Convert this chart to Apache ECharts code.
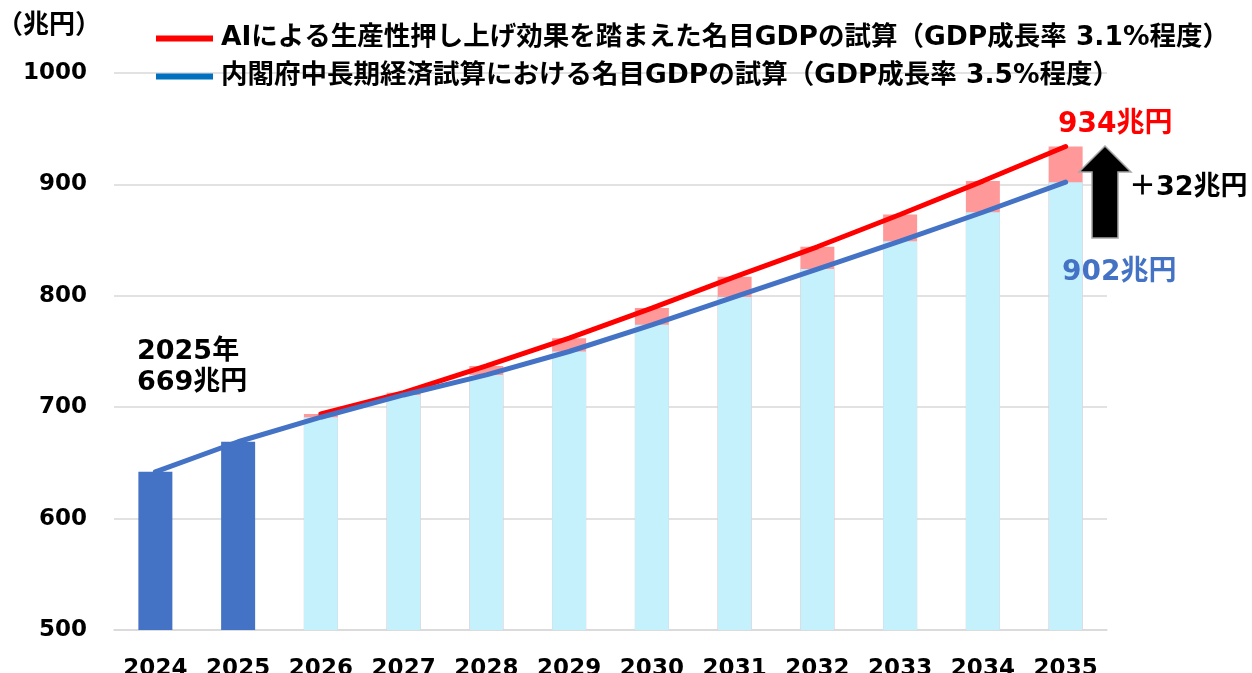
<!DOCTYPE html>
<html>
<head>
<meta charset="UTF-8">
<title>名目GDPの試算</title>
<script src="https://cdn.jsdelivr.net/npm/echarts@6/dist/echarts.min.js"></script>
<style>
html, body { margin: 0; padding: 0; background: #fff; }
#main { width: 1252px; height: 673px; }
</style>
</head>
<body>
<div id="main"></div>
<script>
// 年
var years = ['2024', '2025', '2026', '2027', '2028', '2029', '2030', '2031', '2032', '2033', '2034', '2035'];
// 内閣府中長期経済試算（兆円）
var baseGdp = [642, 669, 691, 711, 729, 750, 774, 799, 824, 849, 875, 902];
// AIによる押し上げを踏まえた試算（兆円）
var aiGdp = [null, null, 694, 713, 737, 762, 789, 817, 844, 873, 903, 934];
// 実績年の数（濃い青の棒）
var actualCount = 2;
// y軸
var yMin = 500, yMax = 1000, yStep = 100;

var nameAi = 'AIによる生産性押し上げ効果を踏まえた名目GDPの試算（GDP成長率 3.1%程度）';
var nameBase = '内閣府中長期経済試算における名目GDPの試算（GDP成長率 3.5%程度）';

var FONT = "'DejaVu Sans', 'Noto Sans CJK JP', sans-serif";

var myChart = echarts.init(document.getElementById('main'));

var baseBars = baseGdp.map(function (v, i) {
	return { value: v, itemStyle: { color: i < actualCount ? '#4472C4' : '#C5F1FC' } };
});

var last = years.length - 1;
var gap = aiGdp[last] - baseGdp[last];

// 注記テキスト
function note(text, x, y, size, color) {
	return {
		type: 'text', x: x, y: y, z: 100,
		style: { text: text, fontSize: size, fontWeight: 'bold', fontFamily: FONT, fill: color, verticalAlign: 'middle' }
	};
}

option = {
	animation: false,
	textStyle: { fontFamily: FONT },
	grid: { left: 114, right: 145, top: 73, bottom: 43, outerBoundsMode: 'none' },
	legend: {
		orient: 'vertical',
		left: 151,
		top: 20,
		itemWidth: 57,
		itemHeight: 6,
		itemGap: 11,
		icon: 'rect',
		textStyle: { fontSize: 26.5, fontWeight: 'bold', color: '#000', lineHeight: 27, fontFamily: FONT, padding: [0, 0, 0, 3] },
		data: [
			{ name: nameAi, itemStyle: { color: '#FF0000' } },
			{ name: nameBase, itemStyle: { color: '#0070C0' } }
		]
	},
	xAxis: {
		type: 'category',
		data: years,
		axisTick: { show: false },
		axisLine: { lineStyle: { color: '#D9D9D9', width: 1.5 } },
		axisLabel: { interval: 0, fontSize: 23, fontWeight: 'bold', color: '#000', margin: 28, lineHeight: 23 }
	},
	yAxis: {
		type: 'value',
		min: yMin,
		max: yMax,
		interval: yStep,
		axisLine: { show: false },
		axisTick: { show: false },
		splitLine: { lineStyle: { color: '#D9D9D9', width: 1.5 } },
		axisLabel: { fontSize: 23, fontWeight: 'bold', color: '#000', margin: 27, formatter: function (v) { return String(v); } }
	},
	series: [
		{
			name: 'ai-bar',
			type: 'bar',
			data: aiGdp,
			barWidth: 34,
			itemStyle: { color: '#FF9999' },
			z: 1
		},
		{
			name: 'base-bar',
			type: 'bar',
			data: baseBars,
			barWidth: 34,
			barGap: '-100%',
			z: 2
		},
		{
			name: nameAi,
			type: 'line',
			data: aiGdp,
			showSymbol: false,
			symbol: 'none',
			lineStyle: { color: '#FF0000', width: 5, cap: 'round' },
			itemStyle: { color: '#FF0000' },
			z: 3
		},
		{
			name: nameBase,
			type: 'line',
			data: baseGdp,
			showSymbol: false,
			symbol: 'none',
			lineStyle: { color: '#4472C4', width: 5, cap: 'round' },
			itemStyle: { color: '#0070C0' },
			z: 4
		}
	],
	graphic: [
		note('（兆円）', -3, 26, 26, '#000'),
		note(years[1] + '年', 137, 352, 27, '#000'),
		note(baseGdp[1] + '兆円', 137, 383, 27, '#000'),
		note(aiGdp[last] + '兆円', 1058, 125, 28, '#FF0000'),
		note(baseGdp[last] + '兆円', 1062, 273, 28, '#4472C4'),
		note('＋' + gap + '兆円', 1129, 188, 27, '#000'),
		{
			type: 'polygon',
			z: 100,
			shape: { points: [[1105, 146], [1131, 172], [1118, 172], [1118, 238], [1092, 238], [1092, 172], [1079, 172]] },
			style: { fill: '#000', stroke: '#A6A6A6', lineWidth: 1.5 }
		}
	]
};

myChart.setOption(option);
</script>
</body>
</html>
